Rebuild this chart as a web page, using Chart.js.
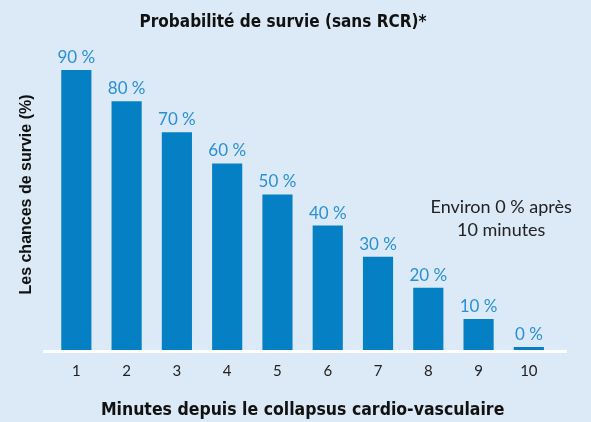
<!DOCTYPE html>
<html lang="fr">
<head>
<meta charset="UTF-8" />
<title>Probabilité de survie</title>
<script src="https://cdn.jsdelivr.net/npm/chart.js"></script>
<style>
  html, body { margin: 0; padding: 0; background: #dbeaf6; }
  #wrap { width: 591px; height: 422px; }
</style>
</head>
<body>
<div id="wrap"><canvas id="graphique" width="591" height="422"></canvas></div>
<script>
  const minutes = ["1", "2", "3", "4", "5", "6", "7", "8", "9", "10"];
  const survie = [90, 80, 70, 60, 50, 40, 30, 20, 10, 0];
  const etiquettes = ["90 %", "80 %", "70 %", "60 %", "50 %", "40 %", "30 %", "20 %", "10 %", "0 %"];
  const note = ["Environ 0 % après", "10 minutes"];

  const bleu = "#0580c5";
  const bleuClair = "#2a90d3";
  const condense = '"Liberation Sans Narrow", "DejaVu Sans Condensed", sans-serif';

  // étiquettes au-dessus des barres + ligne de base blanche + note
  const extras = {
    id: "extras",
    beforeDatasetsDraw(chart) {
      const { ctx, chartArea, scales } = chart;
      const y0 = scales.y.getPixelForValue(0);
      ctx.save();
      ctx.fillStyle = "#ffffff";
      ctx.fillRect(chartArea.left - 8, y0, chartArea.right - chartArea.left + 21, 3);
      ctx.restore();
    },
    afterDatasetsDraw(chart) {
      const { ctx, scales } = chart;
      const meta = chart.getDatasetMeta(0);
      ctx.save();
      ctx.fillStyle = bleuClair;
      ctx.font = "17px Lato";
      ctx.textAlign = "center";
      ctx.textBaseline = "bottom";
      meta.data.forEach((bar, i) => {
        ctx.fillText(etiquettes[i], bar.x, bar.y - 4);
      });
      ctx.fillStyle = "#222222";
      ctx.font = "18px Lato";
      ctx.textBaseline = "middle";
      const nx = scales.x.getPixelForValue(8.45);
      note.forEach((ligne, i) => {
        ctx.fillText(ligne, nx, scales.y.getPixelForValue(46) + i * 23);
      });
      ctx.restore();
    }
  };

  new Chart(document.getElementById("graphique"), {
    type: "bar",
    data: {
      labels: minutes,
      datasets: [{
        data: survie,
        backgroundColor: bleu,
        barPercentage: 0.6,
        categoryPercentage: 1,
        minBarLength: 3
      }]
    },
    options: {
      responsive: false,
      animation: false,
      layout: { padding: { left: 12, right: 37, top: 0, bottom: 0 } },
      plugins: {
        legend: { display: false },
        tooltip: { enabled: false },
        title: {
          display: true,
          text: "Probabilité de survie (sans RCR)*",
          color: "#111111",
          font: { family: condense, size: 17, weight: "bold" },
          padding: { top: 12, bottom: 6.6 }
        }
      },
      scales: {
        x: {
          grid: { display: false },
          border: { display: false },
          ticks: { color: "#222222", font: { family: "Lato", size: 15 }, padding: 4 },
          title: {
            display: true,
            text: "Minutes depuis le collapsus cardio-vasculaire",
            color: "#111111",
            font: { family: condense, size: 17.5, weight: "bold" },
            padding: { top: 16, bottom: 1 }
          }
        },
        y: {
          min: 0,
          max: 100,
          grid: { display: false },
          border: { display: false },
          ticks: { display: false },
          title: {
            display: true,
            text: "Les chances de survie (%)",
            color: "#111111",
            font: { family: '"Liberation Sans", sans-serif', size: 16, weight: "bold" },
            padding: { top: 5, bottom: 7 }
          }
        }
      }
    },
    plugins: [extras]
  });
</script>
</body>
</html>
